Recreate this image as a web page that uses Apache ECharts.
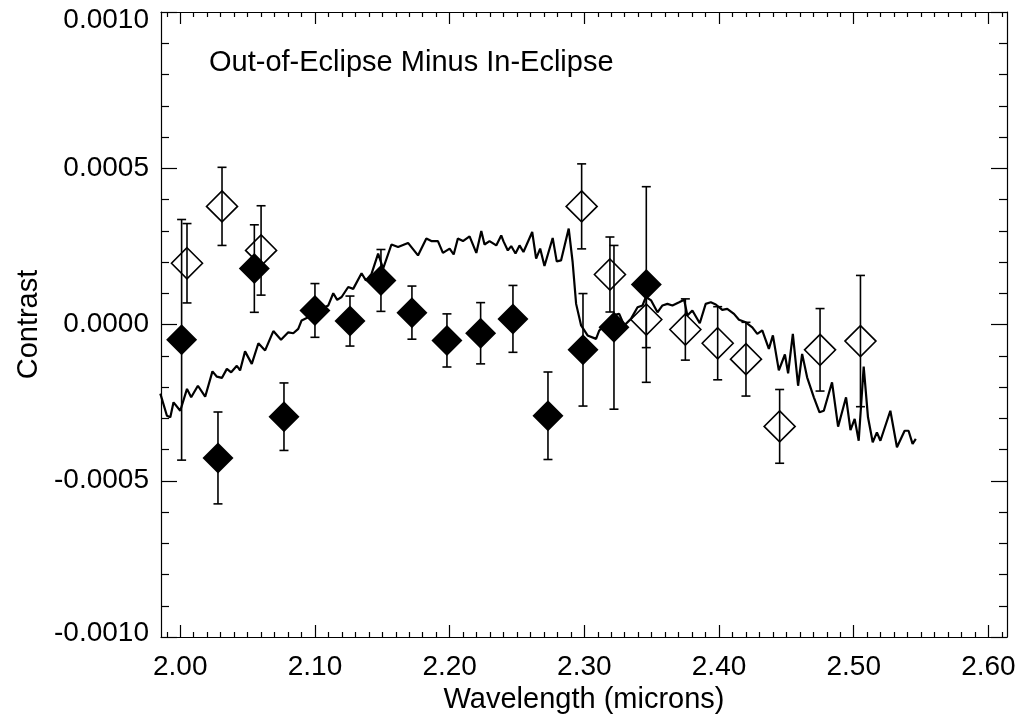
<!DOCTYPE html>
<html>
<head>
<meta charset="utf-8">
<script src="https://cdn.jsdelivr.net/npm/echarts@6/dist/echarts.min.js"></script>
<style>
html,body{margin:0;padding:0;background:#fff;}
#chart{width:1018px;height:715px;}
</style>
</head>
<body>
<div id="chart"></div>
<script>
// ---- data (contrast values in units of 1e-4) ----
const SCALE = 1e-4;
const modelWavelength = [1.9852,1.9901,1.9926,1.9950,2.0000,2.0050,2.0081,2.0131,2.0185,2.0239,
2.0272,2.0309,2.0346,2.0378,2.0420,2.0444,2.0481,2.0531,2.0580,2.0630,
2.0691,2.0748,2.0802,2.0839,2.0876,2.0901,2.0950,2.1000,2.1052,2.1099,
2.1136,2.1165,2.1198,2.1247,2.1284,2.1346,2.1378,2.1420,2.1469,2.1506,
2.1568,2.1617,2.1691,2.1765,2.1827,2.1864,2.1913,2.1950,2.2000,2.2030,
2.2061,2.2099,2.2148,2.2198,2.2235,2.2259,2.2296,2.2346,2.2383,2.2400,
2.2432,2.2457,2.2489,2.2519,2.2548,2.2613,2.2642,2.2672,2.2704,2.2765,
2.2795,2.2827,2.2884,2.2913,2.2939,2.2976,2.3024,2.3087,2.3111,2.3161,
2.3210,2.3259,2.3296,2.3346,2.3395,2.3432,2.3457,2.3496,2.3543,2.3580,
2.3617,2.3654,2.3704,2.3741,2.3765,2.3802,2.3857,2.3901,2.3939,2.3976,
2.4024,2.4061,2.4111,2.4148,2.4198,2.4247,2.4284,2.4321,2.4370,2.4400,
2.4444,2.4489,2.4513,2.4548,2.4587,2.4617,2.4654,2.4704,2.4746,2.4778,
2.4839,2.4884,2.4943,2.4976,2.5007,2.5037,2.5074,2.5106,2.5141,2.5172,
2.5198,2.5272,2.5321,2.5378,2.5407,2.5437,2.5461];
const modelContrastE4 = [-2.21,-2.92,-2.97,-2.49,-2.76,-2.06,-2.33,-1.96,-2.31,-1.50,
-1.67,-1.71,-1.42,-1.53,-1.32,-1.47,-0.86,-1.26,-0.60,-0.83,
-0.21,-0.49,-0.25,-0.28,-0.14,0.13,0.23,0.38,0.51,0.61,
1.00,0.79,0.88,1.20,1.14,1.64,1.41,1.62,2.27,1.79,
2.56,2.48,2.61,2.21,2.75,2.67,2.67,2.29,2.43,2.24,
2.75,2.67,2.82,2.29,2.99,2.56,2.67,2.53,2.85,2.66,
2.37,2.51,2.27,2.53,2.32,2.96,2.11,2.43,1.87,2.77,
2.02,2.05,3.07,2.00,0.66,-0.03,-0.35,-0.46,-0.19,0.02,
0.29,0.34,-0.03,0.18,0.55,0.61,0.88,0.77,0.39,0.61,
0.66,0.61,0.71,0.79,0.29,0.45,0.04,0.66,0.71,0.64,
0.47,0.50,0.34,0.15,0.07,-0.09,-0.30,-0.19,-0.78,-0.35,
-1.47,-0.96,-1.56,-0.30,-1.96,-0.94,-1.69,-2.33,-2.81,-2.76,
-1.85,-3.27,-2.33,-3.38,-3.02,-3.72,-1.35,-2.97,-3.77,-3.45,
-3.72,-2.76,-3.93,-3.40,-3.40,-3.82,-3.66];

const filledWavelength = [2.001,2.028,2.055,2.077,2.100,2.126,2.149,2.172,2.198,2.223,2.247,2.273,2.299,2.322,2.346];
const filledContrastE4 = [-0.49,-4.27,1.79,-2.95,0.45,0.11,1.41,0.38,-0.51,-0.28,0.18,-2.92,-0.81,-0.09,1.28];
const filledErrorE4    = [3.85,1.47,1.40,1.08,0.86,0.80,0.99,0.85,0.85,0.98,1.07,1.40,1.80,2.62,3.13];

const openWavelength = [2.005,2.031,2.060,2.298,2.319,2.346,2.375,2.399,2.420,2.445,2.475,2.505];
const openContrastE4 = [1.96,3.78,2.37,3.78,1.60,0.16,-0.16,-0.60,-1.11,-3.26,-0.81,-0.53];
const openErrorE4    = [1.27,1.25,1.43,1.36,1.20,0.90,0.98,1.17,1.18,1.18,1.32,2.10];

const xMajorTicks = [2.00,2.10,2.20,2.30,2.40,2.50,2.60];
const xMinorTicks = [1.99,2.01,2.02,2.03,2.04,2.05,2.06,2.07,2.08,2.09,2.11,2.12,2.13,2.14,2.15,2.16,2.17,2.18,2.19,
  2.21,2.22,2.23,2.24,2.25,2.26,2.27,2.28,2.29,2.31,2.32,2.33,2.34,2.35,2.36,2.37,2.38,2.39,
  2.41,2.42,2.43,2.44,2.45,2.46,2.47,2.48,2.49,2.51,2.52,2.53,2.54,2.55,2.56,2.57,2.58,2.59,2.61];

const titleText = 'Out-of-Eclipse Minus In-Eclipse';
const xName = 'Wavelength (microns)';
const yName = 'Contrast';

// ---- build ----
const FONT = "'Liberation Sans', Arial, Helvetica, sans-serif";
const BLACK = '#000';
const modelData = modelWavelength.map((x, i) => [x, modelContrastE4[i] * SCALE]);
const filledData = filledWavelength.map((x, i) => [x, filledContrastE4[i] * SCALE]);
const openData = openWavelength.map((x, i) => [x, openContrastE4[i] * SCALE]);
const errData = filledWavelength.map((x, i) => [x, filledContrastE4[i] * SCALE, filledErrorE4[i] * SCALE])
  .concat(openWavelength.map((x, i) => [x, openContrastE4[i] * SCALE, openErrorE4[i] * SCALE]));

const XMIN = 1.9857, XMAX = 2.6138;
function xAxisDef(pos, major, showLabel, withName) {
  return {
    type: 'value', position: pos, min: XMIN, max: XMAX,
    axisLine: { show: major, onZero: false, lineStyle: { color: BLACK, width: 1.2 } },
    axisTick: { show: true, inside: true, length: major ? 12 : 5,
      customValues: major ? xMajorTicks : xMinorTicks, lineStyle: { color: BLACK, width: 1.2 } },
    axisLabel: { show: showLabel, customValues: xMajorTicks, formatter: v => v.toFixed(2),
      fontSize: 28, fontFamily: FONT, color: BLACK, margin: 16 },
    splitLine: { show: false },
    name: withName ? xName : '', nameLocation: 'middle', nameGap: 41,
    nameTextStyle: { fontSize: 29, fontFamily: FONT, color: BLACK }
  };
}
function yAxisDef(pos, showLabel) {
  return {
    type: 'value', position: pos, min: -0.001, max: 0.001, interval: 0.0005,
    axisLine: { show: true, onZero: false, lineStyle: { color: BLACK, width: 1.2 } },
    axisTick: { show: true, inside: true, length: 16, lineStyle: { color: BLACK, width: 1.2 } },
    minorTick: { show: true, splitNumber: 5, length: 8, lineStyle: { color: BLACK, width: 1.2 } },
    axisLabel: { show: showLabel, fontSize: 28, fontFamily: FONT, color: BLACK, margin: 12,
      formatter: v => {
        const s = v.toFixed(4);
        if (v > 0.00099) return '{top|' + s + '}';
        if (v < -0.00099) return '{bot|' + s + '}';
        return s;
      },
      rich: {
        top: { fontSize: 28, fontFamily: FONT, color: BLACK, padding: [16, 0, 0, 0] },
        bot: { fontSize: 28, fontFamily: FONT, color: BLACK, padding: [0, 0, 8, 0] }
      }
    },
    splitLine: { show: false }, minorSplitLine: { show: false },
    name: showLabel ? yName : '', nameLocation: 'middle', nameGap: 118, nameRotate: 90,
    nameTextStyle: { fontSize: 29, fontFamily: FONT, color: BLACK }
  };
}

const chart = echarts.init(document.getElementById('chart'), null, { renderer: 'canvas' });
chart.setOption({
  animation: false,
  backgroundColor: '#fff',
  textStyle: { fontFamily: FONT },
  title: { text: titleText, left: 204, top: 43,
    textStyle: { fontSize: 29, fontWeight: 'normal', fontFamily: FONT, color: BLACK } },
  grid: { left: 161, right: 11, top: 12, bottom: 78, containLabel: false, outerBoundsMode: 'none' },
  xAxis: [
    xAxisDef('bottom', true, true, true),
    xAxisDef('bottom', false, false, false),
    xAxisDef('top', true, false, false),
    xAxisDef('top', false, false, false)
  ],
  yAxis: [ yAxisDef('left', true), yAxisDef('right', false) ],
  series: [
    { type: 'line', xAxisIndex: 0, yAxisIndex: 0, data: modelData, showSymbol: false, symbol: 'none',
      lineStyle: { color: BLACK, width: 2.2 }, z: 2 },
    { type: 'custom', xAxisIndex: 0, yAxisIndex: 0, data: errData, encode: { x: 0, y: 1 }, z: 3,
      renderItem: function (params, api) {
        const x = api.value(0), y = api.value(1), e = api.value(2);
        const t = api.coord([x, y + e]);
        const b = api.coord([x, y - e]);
        const hw = 4.5;
        const st = { stroke: BLACK, lineWidth: 1.6 };
        return { type: 'group', children: [
          { type: 'line', shape: { x1: t[0], y1: t[1], x2: b[0], y2: b[1] }, style: st },
          { type: 'line', shape: { x1: t[0] - hw, y1: t[1], x2: t[0] + hw, y2: t[1] }, style: st },
          { type: 'line', shape: { x1: b[0] - hw, y1: b[1], x2: b[0] + hw, y2: b[1] }, style: st }
        ]};
      }
    },
    { type: 'scatter', xAxisIndex: 0, yAxisIndex: 0, data: openData, symbol: 'diamond', symbolSize: 31,
      itemStyle: { color: 'rgba(0,0,0,0)', borderColor: BLACK, borderWidth: 1.6, opacity: 1 }, z: 4 },
    { type: 'scatter', xAxisIndex: 0, yAxisIndex: 0, data: filledData, symbol: 'diamond', symbolSize: 31,
      itemStyle: { color: BLACK, opacity: 1 }, z: 5 }
  ]
});
</script>
</body>
</html>
